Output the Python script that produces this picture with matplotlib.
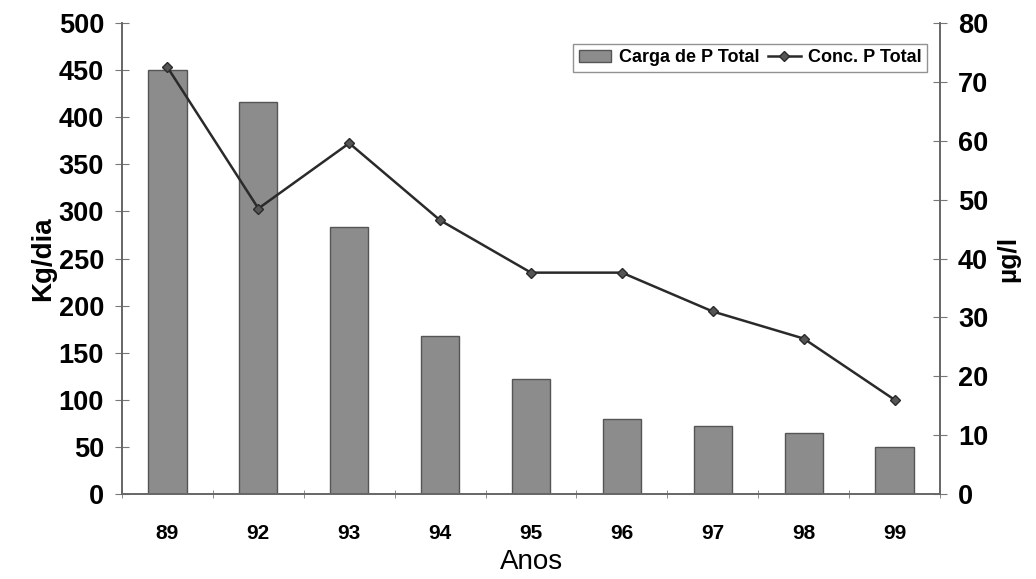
import matplotlib.pyplot as plt
import numpy as np

plt.rcParams['font.family'] = ['Liberation Sans', 'DejaVu Sans']
plt.rcParams['font.weight'] = 'bold'

# data
anos = ["89", "92", "93", "94", "95", "96", "97", "98", "99"]
carga = [450, 416, 283, 168, 122, 80, 72, 65, 50]          # Kg/dia
conc = [72.5, 48.5, 59.6, 46.5, 37.6, 37.6, 31, 26.4, 16]  # ug/l

x = np.arange(len(anos))

fig = plt.figure(figsize=(10.36, 5.79), dpi=100)
ax = fig.add_axes([0.1178, 0.147, 0.7895, 0.813])
ax2 = ax.twinx()

bars = ax.bar(x, carga, width=0.42, color='#8c8c8c', edgecolor='#555555',
              linewidth=1, label='Carga de P Total', zorder=2)
line, = ax2.plot(x, conc, color='#2a2a2a', linewidth=1.8, marker='D',
                 markersize=5, markerfacecolor='#555555',
                 markeredgecolor='#2a2a2a', label='Conc. P Total', zorder=3)

ax.set_xlim(-0.5, len(anos) - 0.5)
ax.set_ylim(0, 500)
ax2.set_ylim(0, 80)
ax.set_yticks(range(0, 501, 50))
ax2.set_yticks(range(0, 81, 10))

# x ticks sit between categories, labels at bar centres
ax.set_xticks(x)
ax.set_xticklabels(anos, fontsize=15)
ax.set_xticks(np.arange(-0.5, len(anos)), minor=True)
ax.tick_params(axis='x', which='major', length=0, pad=22)
ax.tick_params(axis='x', which='minor', length=6, direction='inout', color='#777777')
ax.tick_params(axis='y', labelsize=19.5, direction='inout', length=10,
               color='#777777', pad=8)
ax2.tick_params(axis='y', labelsize=19.5, direction='inout', length=10,
                color='#777777', pad=8)

for a in (ax, ax2):
    a.spines['top'].set_visible(False)
    for s in ('left', 'right', 'bottom'):
        a.spines[s].set_color('#666666')
        a.spines[s].set_linewidth(1.2)

ax.set_xlabel("Anos", fontsize=20, fontweight='normal', labelpad=4)
ax.set_ylabel("Kg/dia", fontsize=20, fontweight='bold', labelpad=2)
ax2.set_ylabel("µg/l", fontsize=19, fontweight='bold', labelpad=6)

leg = ax2.legend([bars, line], ['Carga de P Total', 'Conc. P Total'],
                 loc='upper right', bbox_to_anchor=(0.995, 0.975), ncol=2,
                 fontsize=13, frameon=True, fancybox=False,
                 handlelength=1.8, handletextpad=0.4, columnspacing=0.5,
                 borderpad=0.3)
leg.get_frame().set_edgecolor('#777777')
leg.get_frame().set_linewidth(1)

fig.savefig("out.png", dpi=100)
